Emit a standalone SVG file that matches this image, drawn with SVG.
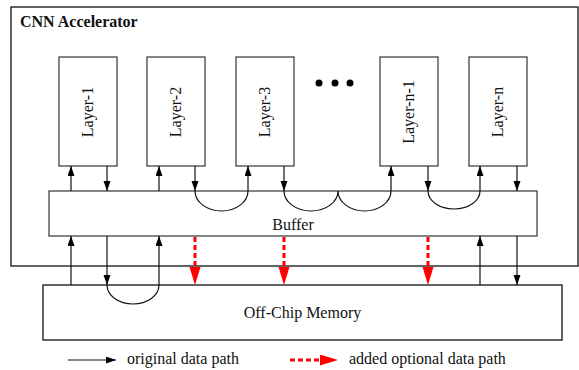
<svg xmlns="http://www.w3.org/2000/svg" width="579" height="370" viewBox="0 0 579 370">
<style>
text { font-family: "Liberation Serif", "Times New Roman", serif; font-size: 16px; fill: #111; }
.box { fill: #fff; stroke: #333; stroke-width: 1.2; }
.outer { fill: #fff; stroke: #111; stroke-width: 1.3; }
.ln { fill: none; stroke: #111; stroke-width: 1.2; }
.red { fill: none; stroke: #ff0000; stroke-width: 3; stroke-dasharray: 5 3; }
</style>
<defs>
<marker id="ah" markerUnits="userSpaceOnUse" markerWidth="11" markerHeight="8" refX="10" refY="3.5" orient="auto" viewBox="0 0 11 8">
<path d="M0,0 L10,3.5 L0,7 z" fill="#000"/>
</marker>
<marker id="rh" markerUnits="userSpaceOnUse" markerWidth="19" markerHeight="12" refX="0" refY="5.5" orient="auto" viewBox="0 0 19 12">
<path d="M0,0 L18,5.5 L0,11 z" fill="#ff0000"/>
</marker>
</defs>

<g id="accelerator">
<rect class="outer" x="11" y="7" width="567" height="259"/>
<text x="20" y="27" font-weight="bold">CNN Accelerator</text>
</g>

<g id="layer-1">
<rect class="box" x="59" y="57" width="58" height="109"/>
<text transform="translate(93,112) rotate(-90)" text-anchor="middle">Layer-1</text>
</g>
<g id="layer-2">
<rect class="box" x="147" y="57" width="58" height="109"/>
<text transform="translate(181,112) rotate(-90)" text-anchor="middle">Layer-2</text>
</g>
<g id="layer-3">
<rect class="box" x="236" y="57" width="58" height="109"/>
<text transform="translate(270,112) rotate(-90)" text-anchor="middle">Layer-3</text>
</g>
<g id="dots">
<circle cx="319" cy="83" r="3.5" fill="#000"/>
<circle cx="335" cy="83" r="3.5" fill="#000"/>
<circle cx="350" cy="83" r="3.5" fill="#000"/>
</g>
<g id="layer-n-1">
<rect class="box" x="380" y="57" width="58" height="109"/>
<text transform="translate(414,112) rotate(-90)" text-anchor="middle">Layer-n-1</text>
</g>
<g id="layer-n">
<rect class="box" x="469" y="57" width="58" height="109"/>
<text transform="translate(503,112) rotate(-90)" text-anchor="middle">Layer-n</text>
</g>

<g id="buffer">
<rect class="box" x="49" y="191" width="488" height="45"/>
<text x="293" y="230" text-anchor="middle">Buffer</text>
</g>

<g id="memory">
<rect class="outer" x="43" y="285" width="519" height="55"/>
<text x="302.5" y="318" text-anchor="middle">Off-Chip Memory</text>
</g>

<g id="connectors">
<!-- layer <-> buffer -->
<path class="ln" d="M71,191 V166" marker-end="url(#ah)"/>
<path class="ln" d="M107,166 V191" marker-end="url(#ah)"/>
<path class="ln" d="M159,191 V166" marker-end="url(#ah)"/>
<path class="ln" d="M195,166 V191" marker-end="url(#ah)"/>
<path class="ln" d="M195,191 A26.5,20 0 0 0 248,191 V166" marker-end="url(#ah)"/>
<path class="ln" d="M284,166 V191" marker-end="url(#ah)"/>
<path class="ln" d="M284,191 A27,20 0 0 0 338,191 A26.5,20 0 0 0 391,191 V166" marker-end="url(#ah)"/>
<path class="ln" d="M428,166 V191" marker-end="url(#ah)"/>
<path class="ln" d="M428,191 A26,18 0 0 0 480,191 V166" marker-end="url(#ah)"/>
<path class="ln" d="M517,166 V191" marker-end="url(#ah)"/>
<!-- buffer <-> memory -->
<path class="ln" d="M71,285 V236" marker-end="url(#ah)"/>
<path class="ln" d="M107,236 V285" marker-end="url(#ah)"/>
<path class="ln" d="M107,285 A26,19 0 0 0 159,285 V236" marker-end="url(#ah)"/>
<path class="ln" d="M480,285 V236" marker-end="url(#ah)"/>
<path class="ln" d="M517,236 V285" marker-end="url(#ah)"/>
<!-- optional paths -->
<path class="red" d="M195,237 V267" marker-end="url(#rh)"/>
<path class="red" d="M284,237 V267" marker-end="url(#rh)"/>
<path class="red" d="M428,237 V267" marker-end="url(#rh)"/>
</g>

<g id="legend">
<path class="ln" d="M68,360 H116" marker-end="url(#ah)"/>
<text x="127" y="364">original data path</text>
<path class="red" d="M290,360 H320" marker-end="url(#rh)"/>
<text x="349" y="364">added optional data path</text>
</g>
</svg>
